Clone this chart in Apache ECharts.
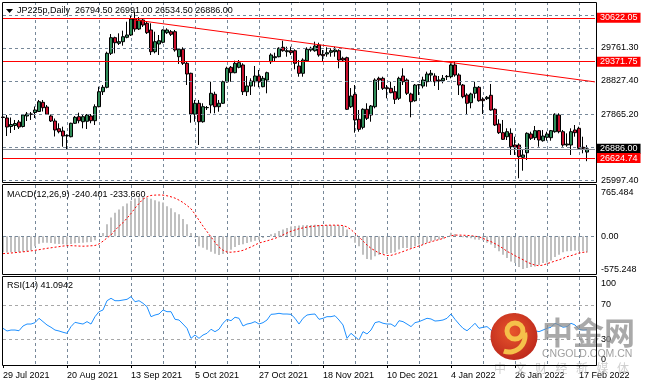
<!DOCTYPE html>
<html><head><meta charset="utf-8">
<script src="https://cdn.jsdelivr.net/npm/echarts@6/dist/echarts.min.js"></script>
<style>html,body{margin:0;padding:0;background:#fff}#c{width:648px;height:387px}</style>
</head><body><div id="c"></div>
<script>
const symbolName = 'JP225p';
const timeframe = 'Daily';
const dateTickLabels = ['29 Jul 2021','20 Aug 2021','13 Sep 2021','5 Oct 2021','27 Oct 2021','18 Nov 2021','10 Dec 2021','4 Jan 2022','26 Jan 2022','17 Feb 2022'];

const opens = [27794,27766,27523,27552,27652,27523,27823,27880,27922,27951,
 28213,28079,27823,27680,27461,27395,27267,27232,27615,27803,
 27660,27672,27823,27689,28088,28515,28641,29610,30055,29895,
 29941,30066,30132,30588,30303,30560,30466,30275,29656,29875,
 29924,30198,30226,30226,29513,29724,29325,29040,27871,28185,
 27660,28059,28136,28441,28088,28185,28800,29211,29057,29211,
 29277,28515,28678,28800,28963,28658,28849,29371,29485,29513,
 29781,29656,29684,29684,29248,29040,29399,29704,29684,29847,
 29582,29590,29639,29656,29684,29468,29485,28088,28441,27729,
 27500,28014,27851,28088,28897,28897,28629,28612,28515,28327,
 28963,28849,28450,28259,28706,28678,28800,28992,28963,28849,
 28829,28943,28943,29277,28992,28706,28421,28202,28470,28641,
 28299,28316,28413,28014,27595,27347,27232,27329,26996,26996,
 26645,26776,27310,27204,27404,27118,27215,27204,27375,27851,
 27375,26996,26996,27424,27472,26930,26794.5];
const closes = [27780,27509,27580,27609,27509,27851,27880,27871,27994,28230,
 28059,27871,27680,27424,27375,27252,27258,27615,27786,27689,
 27803,27851,27689,28088,28515,28641,29610,30055,29912,29941,
 30083,30132,30588,30303,30560,30417,30198,29656,29941,29969,
 30275,30275,30152,29704,29724,29325,29020,27880,28185,27660,
 28088,28065,28470,28088,28185,28800,29183,29057,29325,29342,
 28515,28678,28820,28963,28800,28897,29057,29562,29513,29753,
 29684,29684,29627,29325,29040,29419,29724,29753,29818,29562,
 29542,29627,29684,29704,29419,29419,28014,28393,27709,27443,
 28014,27757,28108,28849,28849,28612,28601,28487,28299,28897,
 28800,28470,28230,28706,28715,28849,29020,29040,28800,28820,
 28897,28954,29277,28992,28706,28373,28185,28450,28641,28259,
 28259,28356,27994,27566,27347,27158,27375,26947,26930,26662,
 26711,27329,27187,27404,27138,27252,27310,27404,27871,27375,
 26996,27024,27375,27347,26902,26902,26886];
const lows = [27709,27252,27338,27424,27452,27495,27680,27709,27766,27937,
 27951,27851,27652,27238,27329,26947,26853,27215,27595,27615,
 27472,27452,27615,27566,28071,28421,28612,29562,29610,29847,
 29827,30038,30103,30226,30275,30360,30160,29562,29610,29562,
 29895,30160,30103,29656,29305,29277,28706,27632,27660,26996,
 27632,27994,27900,27900,27945,28165,28772,28800,29040,29183,
 28421,28393,28421,28658,28641,28641,28470,29305,29371,29496,
 29656,29513,29562,29154,28943,28943,29371,29656,29656,29513,
 29371,29513,29513,29513,29183,29371,27994,28051,27347,27375,
 27443,27709,27660,28042,28564,28564,28327,28470,28165,28279,
 28706,28421,27786,28230,28421,28612,28658,28800,28678,28564,
 28755,28849,28897,28943,28421,28327,27851,28042,28327,28230,
 27880,28279,27974,27538,27310,27138,27138,26711,26711,26047,
 26263,26568,27138,27138,26947,27090,27118,27118,27347,27329,
 26947,26947,26711,27232,26853,26759,26534.5];
const highs = [27880,27851,27780,27709,27709,27880,27937,27937,28094,28279,
 28279,28136,27865,27751,27615,27518,27301,27632,27823,27917,
 27851,27880,27880,28156,28658,28706,29656,30160,30083,30180,
 30255,30511,30674,30796,30645,30602,30511,30466,30226,30132,
 30295,30323,30275,30275,29753,29781,29371,29057,28279,28279,
 28185,28108,28800,28515,28279,28829,29228,29248,29399,29419,
 29325,28963,28897,29248,29134,28963,29086,29610,29627,29781,
 29969,29798,29798,29724,29419,29468,29781,29798,29941,29912,
 29704,29781,29753,29798,29724,29513,29513,28620,28706,27994,
 28042,28185,28136,28897,28943,28943,28706,28800,28678,28943,
 29183,28897,28487,28735,28735,28943,29086,29134,29040,28963,
 28992,28992,29325,29371,29040,28735,28470,28487,28800,28678,
 28356,28393,28735,28042,27729,27709,27472,27472,27232,27044,
 26873,27358,27375,27538,27424,27424,27375,27424,27900,27900,
 27424,27329,27472,27566,27518,27232,26991];

const macdMain = [-240,-242,-240,-238,-236,-230,-225,-210,-150,-110,
 -95,-95,-100,-110,-115,-120,-125,-115,-105,-100,
 -95,-90,-85,-60,-5,50,180,280,350,400,
 450,490,530,565,580,585,575,560,540,520,
 505,450,420,360,330,260,180,50,-20,-150,
 -170,-200,-230,-260,-280,-265,-245,-200,-160,-130,
 -120,-100,-80,-65,-50,-25,0,30,45,80,
 100,125,145,155,160,165,170,170,172,170,
 165,165,163,163,160,150,100,-30,-95,-150,
 -274,-339,-349,-300,-274,-259,-259,-249,-240,-199,
 -174,-174,-174,-149,-124,-124,-98,-73,-60,-48,
 -38,0,52,35,0,-15,-25,-30,-48,-50,
 -60,-98,-124,-174,-224,-274,-324,-375,-400,-460,
 -490,-475,-460,-450,-430,-400,-390,-360,-310,-274,
 -239,-224,-220,-214,-218,-225,-240.401];
const macdSignal = [-259,-255,-250,-244,-238,-232,-226,-218,-210,-200,
 -190,-180,-172,-163,-155,-146,-140,-140,-143,-146,
 -148,-146,-142,-138,-115,-73,-25,20,90,150,
 203,270,340,420,490,554,590,610,615,617,
 615,605,590,570,540,505,460,410,330,240,
 152,70,-10,-90,-160,-209,-235,-238,-232,-224,
 -210,-185,-160,-130,-100,-85,-68,-50,-30,-8,
 20,50,75,95,113,125,138,145,152,160,
 163,165,166,166,165,160,140,100,45,-10,
 -70,-130,-180,-215,-250,-272,-287,-285,-268,-250,
 -228,-205,-185,-165,-145,-125,-100,-82,-65,-50,
 -32,-10,8,17,18,16,13,8,0,-8,
 -30,-60,-80,-110,-145,-180,-225,-255,-290,-320,
 -350,-385,-410,-430,-440,-430,-410,-390,-370,-352,
 -330,-305,-290,-270,-250,-240,-233.66];
const rsi = [42.8,39.7,40.8,40.8,40.0,45.5,47.8,47.8,49.4,54.5,
 50.6,46.7,44.0,40.8,39.7,38.2,37.0,44.8,49.8,48.7,
 47.8,50.6,47.8,56.4,62.2,64.2,75.0,77.8,75.0,75.0,
 75.8,76.6,79.7,73.8,75.0,72.0,68.0,56.4,58.3,59.5,
 64.2,62.2,62.2,53.3,52.5,47.8,42.8,31.1,35.0,31.1,
 35.0,37.0,41.7,38.9,41.7,48.7,53.3,51.7,55.7,54.5,
 45.5,47.8,48.7,50.6,47.8,49.4,52.5,59.1,59.5,60.3,
 59.5,59.5,59.1,54.5,47.8,54.5,58.3,59.1,59.5,53.3,
 54.5,56.4,56.4,57.5,52.5,46.7,31.1,37.0,33.0,29.2,
 38.9,36.2,40.8,49.4,50.6,48.7,47.8,47.8,44.8,51.7,
 50.6,47.8,44.8,49.4,50.6,52.5,54.5,53.7,51.3,51.7,
 52.5,54.5,59.5,53.3,47.8,42.8,40.0,44.0,48.7,42.8,
 44.0,44.8,40.8,37.0,33.0,31.1,33.0,30.0,31.1,29.2,
 31.1,38.9,37.8,40.0,38.9,40.8,42.8,44.0,48.7,46.7,
 44.0,44.8,48.7,46.7,41.7,40.8,41.0942];

const priceGridLevels = [30695.20, 29761.30, 28827.40, 27865.20, 26931.30, 25997.40];
const priceGridLabels = ['', '29761.30', '28827.40', '27865.20', '', '25997.40'];
const redLevels = [30622.05, 29371.75, 26624.74];
const trendLine = [[33, 30560], [148, 28795]];
const currentPrice = 26886.00;
const macdRange = [-575.248, 765.484];
const rsiLevels = [70, 30];
const rsiRange = [0, 100];

const FONT = '"Liberation Sans", Arial, sans-serif';
const GRID_COLOR = '#778899';
const dashed = {color: GRID_COLOR, type: [3, 3], width: 1};
const N = opens.length + 2;
const cats = Array.from({length: N}, (_, i) => String(i));
const candleData = opens.map((o, i) => [o, closes[i], lows[i], highs[i]]);
const last = opens.length - 1;
const headline = symbolName + ',' + timeframe + '  ' + opens[last].toFixed(2) + ' ' + highs[last].toFixed(2) + ' ' + lows[last].toFixed(2) + ' ' + closes[last].toFixed(2);

function xAxisFor(gridIndex, showLabels) {
  return {
    type: 'category', gridIndex: gridIndex, data: cats, boundaryGap: false,
    axisLine: {show: false},
    axisTick: {show: showLabels, interval: (i) => i % 16 === 0, length: 3, lineStyle: {color: '#000'}},
    axisLabel: {show: showLabels, interval: (i) => i % 16 === 0, align: 'left', margin: 5,
      fontSize: 9, fontFamily: FONT, color: '#000',
      formatter: (v) => dateTickLabels[Number(v) / 16] || ''},
    splitLine: {show: true, interval: (i) => i % 8 === 0 && i > 0, lineStyle: dashed}
  };
}
const labelBase = {fontSize: 9, fontFamily: FONT, color: '#000', position: 'end', distance: 6};
function tag(bg, text) {
  return {show: true, position: 'end', distance: 2, backgroundColor: bg, color: '#fff',
    padding: [1, 3, 0, 3], fontSize: 9, lineHeight: 9, fontFamily: FONT, formatter: text};
}
function topEdgeLabel(text, lh) {
  return {show: true, formatter: '\n' + text, lineHeight: lh};
}
function bottomEdgeLabel(text) {
  return {show: true, formatter: text, verticalAlign: 'bottom', lineHeight: 11};
}
const hidden = {color: 'rgba(0,0,0,0)', width: 1, type: 'solid'};

const graphics = [
  {type: 'rect', shape: {x: 2.5, y: 2.5, width: 594, height: 180}, style: {fill: 'none', stroke: '#000', lineWidth: 1}, z: 50, silent: true},
  {type: 'rect', shape: {x: 2.5, y: 184.5, width: 594, height: 90}, style: {fill: 'none', stroke: '#000', lineWidth: 1}, z: 50, silent: true},
  {type: 'rect', shape: {x: 2.5, y: 276.5, width: 594, height: 89}, style: {fill: 'none', stroke: '#000', lineWidth: 1}, z: 50, silent: true},
  {type: 'polygon', shape: {points: [[6, 9], [13, 9], [9.5, 13]]}, style: {fill: '#000'}, z: 50, silent: true},
  // watermark
  {type: 'circle', shape: {cx: 514, cy: 336.5, r: 23.5}, z: 60, silent: true,
    style: {fill: new echarts.graphic.RadialGradient(0.45, 0.4, 0.7, [{offset: 0, color: '#e8552c'}, {offset: 1, color: '#b8231a'}])}},
  {type: 'arc', shape: {cx: 515, cy: 331, r: 8, startAngle: 0, endAngle: Math.PI * 2}, style: {stroke: '#f5c04a', lineWidth: 5, fill: 'none'}, z: 61, silent: true},
  {type: 'arc', shape: {cx: 509, cy: 336, r: 16, startAngle: -0.2, endAngle: 1.9}, style: {stroke: '#f5c04a', lineWidth: 5, fill: 'none'}, z: 61, silent: true},
  {type: 'text', x: 542, y: 317, z: 40, silent: true, style: {text: '中金网', fontSize: 31, fontWeight: 'bold', fontFamily: '"Noto Sans CJK SC"', fill: 'rgba(140,140,140,0.75)'}},
  {type: 'text', x: 542, y: 348.5, z: 40, silent: true, style: {text: 'CNGOLD.COM.CN', fontSize: 10.5, fontFamily: FONT, fill: 'rgba(150,150,150,0.9)'}}
].concat('中文财经新媒体'.split('').map((ch, k) => ({type: 'text', x: 494 + k * 20.5, y: 362, z: 40, silent: true,
  style: {text: ch, fontSize: 12, fontFamily: '"Noto Sans CJK SC"', fill: 'rgba(195,195,195,0.8)'}})));

const titleStyle = {fontSize: 9, fontWeight: 'normal', color: '#000', fontFamily: FONT};
const option = {
  animation: false,
  backgroundColor: '#fff',
  title: [
    {text: headline, left: 17, top: 6, padding: 0, textStyle: titleStyle},
    {text: 'MACD(12,26,9) ' + macdMain[last].toFixed(3) + ' ' + macdSignal[last].toFixed(3), left: 7, top: 190, padding: 0, textStyle: titleStyle},
    {text: 'RSI(14) ' + rsi[last].toFixed(4), left: 7, top: 281, padding: 0, textStyle: titleStyle}
  ],
  grid: [
    {left: 3, width: 592, top: 2, height: 181},
    {left: 3, width: 592, top: 185, height: 90},
    {left: 3, width: 592, top: 277, height: 89}
  ],
  xAxis: [xAxisFor(0, false), xAxisFor(1, false), xAxisFor(2, true)],
  yAxis: [
    {type: 'value', gridIndex: 0, min: 25912.5, max: 31072.8, show: false},
    {type: 'value', gridIndex: 1, min: macdRange[0] - 3, max: macdRange[1] + 0.5, show: false},
    {type: 'value', gridIndex: 2, min: -1.14, max: 102.65, show: false}
  ],
  graphic: graphics,
  series: [
    {type: 'line', xAxisIndex: 0, yAxisIndex: 0, data: [], z: 1, silent: true,
      markLine: {silent: true, symbol: 'none', animation: false, lineStyle: dashed, label: labelBase,
        data: priceGridLevels.map((v, k) => ({yAxis: v, label: {show: !!priceGridLabels[k], formatter: priceGridLabels[k] || ' '}}))}},
    {type: 'candlestick', xAxisIndex: 0, yAxisIndex: 0, data: candleData, barWidth: 3, z: 3, silent: true,
      itemStyle: {color: '#2e8b57', color0: '#c8102e', borderColor: '#000', borderColor0: '#000', borderWidth: 1}},
    {type: 'line', xAxisIndex: 0, yAxisIndex: 0, data: [], z: 5, silent: true,
      markLine: {silent: true, symbol: 'none', animation: false,
        data: [
          {yAxis: currentPrice, lineStyle: {color: '#8a9099', width: 1, type: 'solid'}, label: tag('#000', currentPrice.toFixed(2))}
        ].concat(redLevels.map((v) => ({yAxis: v, lineStyle: {color: '#ff0000', width: 1, type: 'solid'}, label: tag('#ff0000', v.toFixed(2))})))
         .concat([[{coord: trendLine[0], lineStyle: {color: '#ff0000', width: 1, type: 'solid'}, label: {show: false}}, {coord: trendLine[1]}]])}},
    {type: 'line', xAxisIndex: 1, yAxisIndex: 1, data: [], z: 70, silent: true,
      markLine: {silent: true, symbol: 'none', animation: false, label: labelBase,
        data: [
          {yAxis: 0, lineStyle: dashed, label: {show: true, formatter: '0.00'}},
          {yAxis: macdRange[1], lineStyle: hidden, label: topEdgeLabel(macdRange[1].toFixed(3), 15)},
          {yAxis: macdRange[0], lineStyle: hidden, label: bottomEdgeLabel(macdRange[0].toFixed(3))}
        ]}},
    {type: 'bar', xAxisIndex: 1, yAxisIndex: 1, data: macdMain, barWidth: 2, z: 2, silent: true, itemStyle: {color: '#c0c0c0'}},
    {type: 'line', xAxisIndex: 1, yAxisIndex: 1, data: macdSignal, z: 3, silent: true, symbol: 'none',
      lineStyle: {color: '#ff0000', width: 1, type: [2, 2]}},
    {type: 'line', xAxisIndex: 2, yAxisIndex: 2, data: [], z: 1, silent: true,
      markLine: {silent: true, symbol: 'none', animation: false,
        data: rsiLevels.map((v) => ({yAxis: v, lineStyle: {color: '#a8a8a8', type: [3, 3], width: 1}, label: {show: false}}))}},
    {type: 'line', xAxisIndex: 2, yAxisIndex: 2, data: [], zlevel: 1, z: 90, silent: true,
      markLine: {silent: true, symbol: 'none', animation: false, label: labelBase, lineStyle: hidden,
        data: rsiLevels.map((v) => ({yAxis: v, label: {show: true, formatter: String(v)}}))
          .concat([
            {yAxis: rsiRange[1], label: topEdgeLabel(String(rsiRange[1]), 9)},
            {yAxis: rsiRange[0] + 0.01, label: bottomEdgeLabel(String(rsiRange[0]))}
          ])}},
    {type: 'line', xAxisIndex: 2, yAxisIndex: 2, data: rsi, z: 3, silent: true, symbol: 'none',
      lineStyle: {color: '#1e90ff', width: 1}}
  ]
};
const chart = echarts.init(document.getElementById('c'));
chart.setOption(option);
</script>
</body></html>
